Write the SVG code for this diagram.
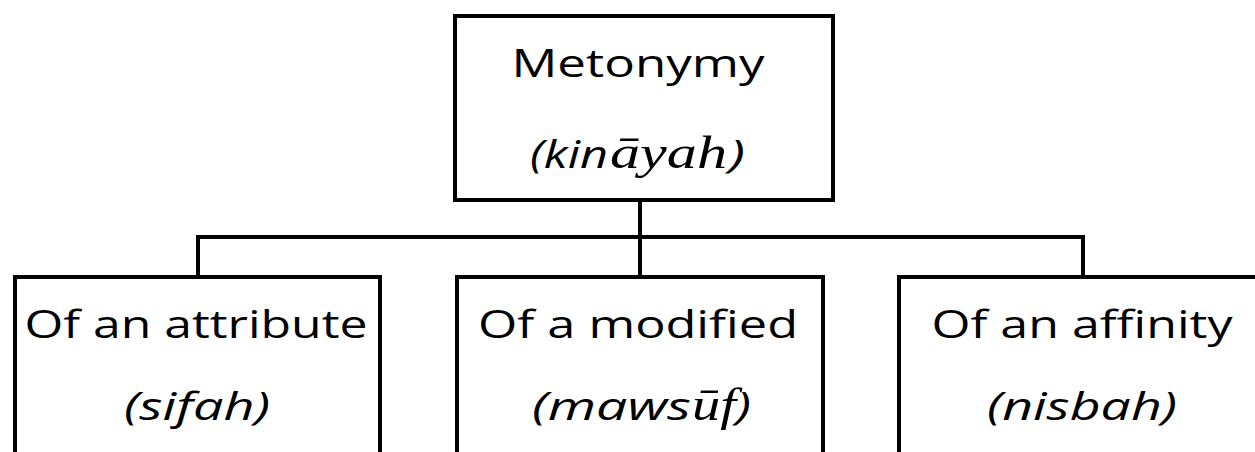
<svg xmlns="http://www.w3.org/2000/svg" width="1255" height="452" viewBox="0 0 1255 452">
<style>
.box{fill:#fff;stroke:#000;stroke-width:4}
.ln{fill:none;stroke:#000;stroke-width:4}
.t{font-family:"Open Sans","Liberation Sans",sans-serif;font-size:39px;fill:#000;text-anchor:middle}
.i{font-style:italic}
.l{text-anchor:start}
.s{font-family:"Liberation Serif","DejaVu Serif",serif;font-style:italic;font-size:46px;fill:#000;text-anchor:start}
</style>
<rect width="1255" height="452" fill="#fff"/>
<g id="connectors">
<path class="ln" d="M640 200V237M198 277V237H1083V277M640 237V277"/>
</g>
<g id="node-root">
<rect class="box" x="455" y="16" width="378" height="184"/>
<text class="t" x="638" y="77" textLength="253" lengthAdjust="spacingAndGlyphs">Metonymy</text>
<text class="t i l" x="530" y="168" textLength="78" lengthAdjust="spacingAndGlyphs">(kin</text>
<text class="s" x="610" y="168" textLength="117" lengthAdjust="spacingAndGlyphs">āyah</text>
<text class="t i l" x="729" y="168" textLength="16" lengthAdjust="spacingAndGlyphs">)</text>
</g>
<g id="node-attribute">
<rect class="box" x="15" y="277" width="365" height="200"/>
<text class="t" x="196" y="338" textLength="343" lengthAdjust="spacingAndGlyphs">Of an attribute</text>
<text class="t i" x="197" y="420" textLength="146" lengthAdjust="spacingAndGlyphs">(sifah)</text>
</g>
<g id="node-modified">
<rect class="box" x="457" y="277" width="366" height="200"/>
<text class="t" x="638" y="338" textLength="320" lengthAdjust="spacingAndGlyphs">Of a modified</text>
<text class="t i l" x="532" y="420" textLength="159" lengthAdjust="spacingAndGlyphs">(maws</text>
<text class="s" x="692" y="420" textLength="44" lengthAdjust="spacingAndGlyphs">ūf</text>
<text class="t i l" x="736" y="420" textLength="15" lengthAdjust="spacingAndGlyphs">)</text>
</g>
<g id="node-affinity">
<rect class="box" x="899" y="277" width="366" height="200"/>
<text class="t" x="1082" y="338" textLength="301" lengthAdjust="spacingAndGlyphs">Of an affinity</text>
<text class="t i" x="1082" y="420" textLength="190" lengthAdjust="spacingAndGlyphs">(nisbah)</text>
</g>
</svg>
